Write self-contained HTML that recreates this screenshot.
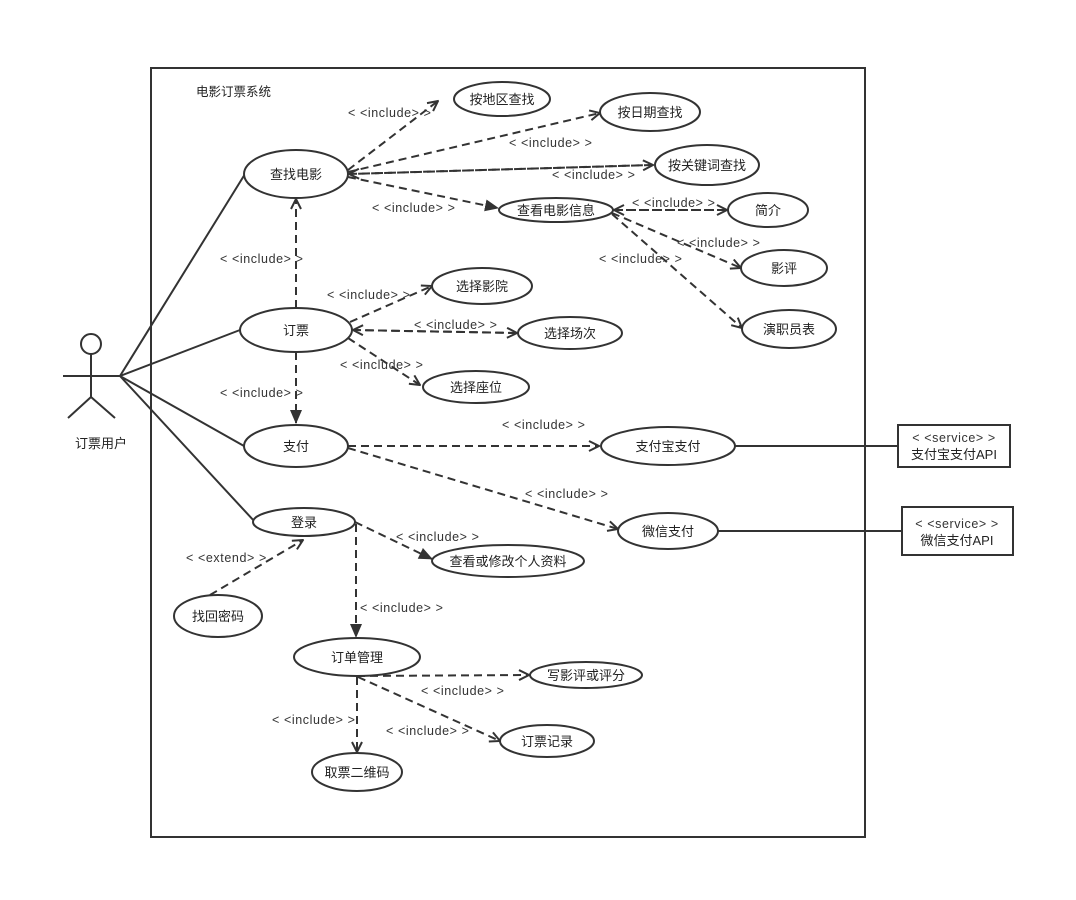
<!DOCTYPE html>
<html><head><meta charset="utf-8"><style>
html,body{margin:0;padding:0;background:#fff}
svg{display:block}
text{font-family:"Liberation Sans","Noto Sans CJK SC",sans-serif;font-size:13px;fill:#222}
.l{font-size:12.5px;fill:#333;letter-spacing:0.6px;white-space:pre}
ellipse{fill:#fff;stroke:#333;stroke-width:2}
.d{stroke:#333;stroke-width:2;stroke-dasharray:8,5;fill:none}
.s{stroke:#333;stroke-width:2;fill:none}
</style></head><body>
<svg width="1076" height="900" viewBox="0 0 1076 900">
<defs>
<marker id="o" viewBox="0 0 12 12" refX="11" refY="6" markerWidth="12" markerHeight="12" markerUnits="userSpaceOnUse" orient="auto"><path d="M1,1 L11,6 L1,11" fill="none" stroke="#333" stroke-width="2"/></marker>
<marker id="f" viewBox="0 0 14 12" refX="13" refY="6" markerWidth="14" markerHeight="12" markerUnits="userSpaceOnUse" orient="auto"><path d="M0,0 L14,6 L0,12 Z" fill="#333"/></marker>
</defs>
<rect x="151" y="68" width="714" height="769" fill="none" stroke="#333" stroke-width="2"/>
<text x="196" y="96" style="font-size:12.5px">电影订票系统</text>
<circle cx="91" cy="344" r="10" fill="#fff" stroke="#333" stroke-width="2"/>
<path class="s" d="M91,354 L91,397 M63,376 L120,376 M91,397 L68,418 M91,397 L115,418"/>
<text x="75" y="448">订票用户</text>
<path class="s" d="M120,376 L245,174 M120,376 L240,330 M120,376 L244,446 M120,376 L255,522"/>
<path class="s" d="M735,446 L898,446 M718,531 L902,531"/>
<rect x="898" y="425" width="112" height="42" fill="#fff" stroke="#333" stroke-width="2"/>
<text x="954" y="442" text-anchor="middle" class="l">&lt; &lt;service&gt; &gt;</text>
<text x="954" y="459" text-anchor="middle">支付宝支付API</text>
<rect x="902" y="507" width="111" height="48" fill="#fff" stroke="#333" stroke-width="2"/>
<text x="957" y="528" text-anchor="middle" class="l">&lt; &lt;service&gt; &gt;</text>
<text x="957" y="545" text-anchor="middle">微信支付API</text>
<path class="d" marker-end="url(#o)" d="M348,170 L438,101"/>
<path class="d" marker-end="url(#o)" d="M348,172 L600,113"/>
<path class="d" marker-end="url(#o)" d="M349,174 L653,165"/>
<path class="d" marker-end="url(#o)" d="M652,165 L349,174"/>
<path class="d" marker-end="url(#f)" d="M348,177 L498,208"/>
<path class="d" marker-end="url(#o)" d="M613,210 L727,210"/>
<path class="d" marker-end="url(#o)" d="M727,210 L614,210"/>
<path class="d" marker-end="url(#o)" d="M612,213 L741,268"/>
<path class="d" marker-end="url(#o)" d="M612,214 L742,328"/>
<path class="d" marker-end="url(#o)" d="M296,308 L296,199"/>
<path class="d" marker-end="url(#f)" d="M296,352 L296,423"/>
<path class="d" marker-end="url(#o)" d="M350,322 L432,286"/>
<path class="d" marker-end="url(#o)" d="M352,330 L517,333"/>
<path class="d" marker-end="url(#o)" d="M517,333 L353,330"/>
<path class="d" marker-end="url(#o)" d="M348,338 L420,385"/>
<path class="d" marker-end="url(#o)" d="M348,446 L599,446"/>
<path class="d" marker-end="url(#o)" d="M348,448 L618,529"/>
<path class="d" marker-end="url(#f)" d="M355,522 L432,559"/>
<path class="d" marker-end="url(#f)" d="M356,524 L356,637"/>
<path class="d" marker-end="url(#o)" d="M210,595 L303,540"/>
<path class="d" marker-end="url(#o)" d="M357,676 L529,675"/>
<path class="d" marker-end="url(#o)" d="M358,677 L500,741"/>
<path class="d" marker-end="url(#o)" d="M357,677 L357,752"/>
<text x="348" y="117" class="l">&lt; &lt;include&gt; &gt;</text>
<text x="509" y="147" class="l">&lt; &lt;include&gt; &gt;</text>
<text x="552" y="179" class="l">&lt; &lt;include&gt; &gt;</text>
<text x="372" y="212" class="l">&lt; &lt;include&gt; &gt;</text>
<text x="632" y="207" class="l">&lt; &lt;include&gt; &gt;</text>
<text x="677" y="247" class="l">&lt; &lt;include&gt; &gt;</text>
<text x="599" y="263" class="l">&lt; &lt;include&gt; &gt;</text>
<text x="220" y="263" class="l">&lt; &lt;include&gt; &gt;</text>
<text x="327" y="299" class="l">&lt; &lt;include&gt; &gt;</text>
<text x="414" y="329" class="l">&lt; &lt;include&gt; &gt;</text>
<text x="340" y="369" class="l">&lt; &lt;include&gt; &gt;</text>
<text x="220" y="397" class="l">&lt; &lt;include&gt; &gt;</text>
<text x="502" y="429" class="l">&lt; &lt;include&gt; &gt;</text>
<text x="525" y="498" class="l">&lt; &lt;include&gt; &gt;</text>
<text x="396" y="541" class="l">&lt; &lt;include&gt; &gt;</text>
<text x="186" y="562" class="l">&lt; &lt;extend&gt; &gt;</text>
<text x="360" y="612" class="l">&lt; &lt;include&gt; &gt;</text>
<text x="421" y="695" class="l">&lt; &lt;include&gt; &gt;</text>
<text x="272" y="724" class="l">&lt; &lt;include&gt; &gt;</text>
<text x="386" y="735" class="l">&lt; &lt;include&gt; &gt;</text>
<ellipse cx="296" cy="174" rx="52" ry="24"/><text x="296" y="179" text-anchor="middle">查找电影</text>
<ellipse cx="502" cy="99" rx="48" ry="17"/><text x="502" y="104" text-anchor="middle">按地区查找</text>
<ellipse cx="650" cy="112" rx="50" ry="19"/><text x="650" y="117" text-anchor="middle">按日期查找</text>
<ellipse cx="707" cy="165" rx="52" ry="20"/><text x="707" y="170" text-anchor="middle">按关键词查找</text>
<ellipse cx="556" cy="210" rx="57" ry="12"/><text x="556" y="215" text-anchor="middle">查看电影信息</text>
<ellipse cx="768" cy="210" rx="40" ry="17"/><text x="768" y="215" text-anchor="middle">简介</text>
<ellipse cx="784" cy="268" rx="43" ry="18"/><text x="784" y="273" text-anchor="middle">影评</text>
<ellipse cx="789" cy="329" rx="47" ry="19"/><text x="789" y="334" text-anchor="middle">演职员表</text>
<ellipse cx="296" cy="330" rx="56" ry="22"/><text x="296" y="335" text-anchor="middle">订票</text>
<ellipse cx="482" cy="286" rx="50" ry="18"/><text x="482" y="291" text-anchor="middle">选择影院</text>
<ellipse cx="570" cy="333" rx="52" ry="16"/><text x="570" y="338" text-anchor="middle">选择场次</text>
<ellipse cx="476" cy="387" rx="53" ry="16"/><text x="476" y="392" text-anchor="middle">选择座位</text>
<ellipse cx="296" cy="446" rx="52" ry="21"/><text x="296" y="451" text-anchor="middle">支付</text>
<ellipse cx="668" cy="446" rx="67" ry="19"/><text x="668" y="451" text-anchor="middle">支付宝支付</text>
<ellipse cx="668" cy="531" rx="50" ry="18"/><text x="668" y="536" text-anchor="middle">微信支付</text>
<ellipse cx="304" cy="522" rx="51" ry="14"/><text x="304" y="527" text-anchor="middle">登录</text>
<ellipse cx="508" cy="561" rx="76" ry="16"/><text x="508" y="566" text-anchor="middle">查看或修改个人资料</text>
<ellipse cx="218" cy="616" rx="44" ry="21"/><text x="218" y="621" text-anchor="middle">找回密码</text>
<ellipse cx="357" cy="657" rx="63" ry="19"/><text x="357" y="662" text-anchor="middle">订单管理</text>
<ellipse cx="586" cy="675" rx="56" ry="13"/><text x="586" y="680" text-anchor="middle">写影评或评分</text>
<ellipse cx="547" cy="741" rx="47" ry="16"/><text x="547" y="746" text-anchor="middle">订票记录</text>
<ellipse cx="357" cy="772" rx="45" ry="19"/><text x="357" y="777" text-anchor="middle">取票二维码</text>
</svg>
</body></html>
